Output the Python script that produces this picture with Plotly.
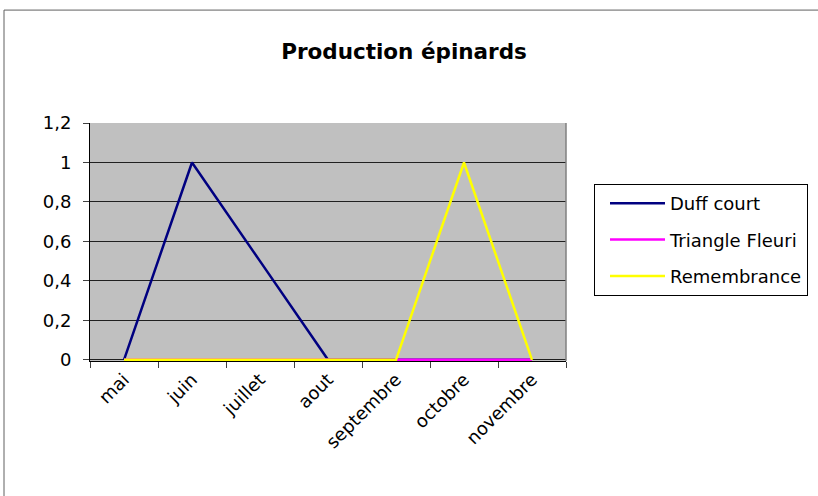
import plotly.graph_objects as go

months = ["mai", "juin", "juillet", "aout", "septembre", "octobre", "novembre"]
duff_court = [0, 1, 0.5, 0, 0, 0, 0]
triangle_fleuri = [0, 0, 0, 0, 0, 0, 0]
remembrance = [0, 0, 0, 0, 0, 1, 0]
y_ticks = [0, 0.2, 0.4, 0.6, 0.8, 1.0, 1.2]
y_tick_labels = ["0", "0,2", "0,4", "0,6", "0,8", "1", "1,2"]

FONT = "DejaVu Sans, Liberation Sans, Arial, sans-serif"

fig = go.Figure()
series = [
    ("Duff court", duff_court, "#000080"),
    ("Triangle Fleuri", triangle_fleuri, "#FF00FF"),
    ("Remembrance", remembrance, "#FFFF00"),
]
for name, vals, col in series:
    fig.add_trace(go.Scatter(x=months, y=vals, mode="lines", name=name,
                             legendgroup=name,
                             line=dict(color=col, width=2.5)))

W, H = 818, 496
YMIN, YMAX = -0.006, 1.2
L, R, T = 90, 566, 123
Y0 = 360  # pixel of value 0
B = T + (Y0 - T) * (YMAX - YMIN) / YMAX
pw, ph = R - L, B - T

def px_x(x):
    return (x - L) / pw

def px_y(y):
    return (B - y) / ph

fig.update_layout(
    width=W, height=H,
    margin=dict(l=L, r=W - R, t=T, b=H - B, autoexpand=False),
    paper_bgcolor="white",
    plot_bgcolor="#C0C0C0",
    font=dict(family=FONT, size=18, color="black"),
    title=dict(text="<b>Production épinards</b>", x=404 / W, xanchor="center",
               y=1 - 51 / H, yanchor="middle",
               font=dict(family=FONT, size=21.5, color="black")),
    xaxis=dict(type="category", showgrid=False, showline=True, linecolor="black",
               linewidth=1, ticks="outside", ticklen=6, tickcolor="#404040",
               tickson="boundaries", tickangle=-45, layer="below traces",
               tickfont=dict(family=FONT, size=18, color="black"),
               range=[-0.5, 6.5], zeroline=False, fixedrange=True),
    yaxis=dict(range=[YMIN, YMAX], tickvals=y_ticks, ticktext=y_tick_labels,
               showgrid=True, gridcolor="#202020", gridwidth=1,
               showline=True, linecolor="black", linewidth=1,
               ticks="outside", ticklen=6, tickcolor="#404040",
               ticklabelstandoff=8, layer="below traces",
               tickfont=dict(family=FONT, size=18, color="black"),
               zeroline=False, fixedrange=True),
    legend=dict(x=px_x(594), y=px_y(184), xanchor="left", yanchor="top",
                bgcolor="white", bordercolor="black", borderwidth=1,
                font=dict(family=FONT, size=18, color="black"),
                tracegroupgap=10, itemwidth=55, indentation=10),
    showlegend=True,
)

# right edge of plot area
fig.add_shape(type="line", xref="paper", yref="paper", x0=1, x1=1, y0=0, y1=1,
              line=dict(color="#808080", width=1.5))
# outer chart border
fig.add_shape(type="rect", xref="paper", yref="paper",
              x0=px_x(4), x1=px_x(830), y0=px_y(510), y1=px_y(10),
              line=dict(color="#606060", width=1))

fig.write_html("out.html", config={"displayModeBar": False},
               post_script="document.body.style.margin='0';document.body.style.overflow='hidden';")
